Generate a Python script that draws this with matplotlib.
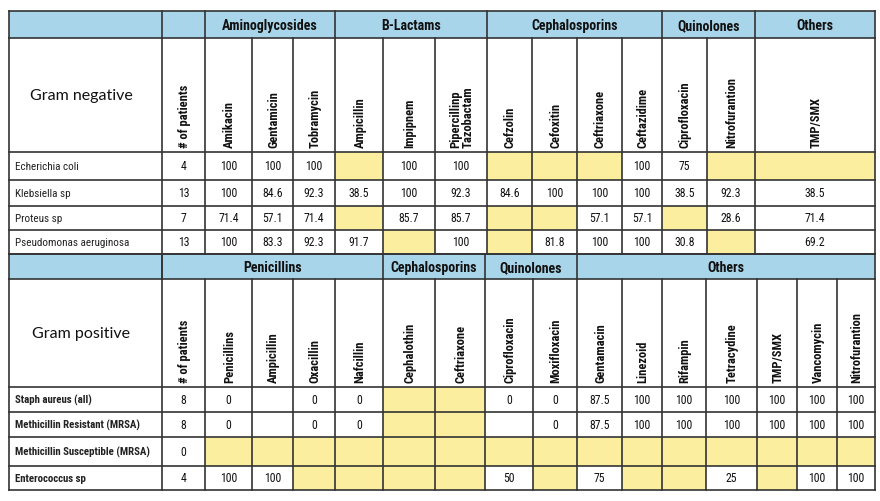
import matplotlib
matplotlib.use("Agg")
import matplotlib.pyplot as plt
from matplotlib.patches import Rectangle

# ---- data ----
top_title = "Gram negative"
top_groups = ["", "Aminoglycosides", "B-Lactams", "Cephalosporins", "Quinolones", "Others"]
top_group_sizes = [1, 3, 3, 4, 2, 1]
top_columns = ["# of patients", "Amikacin", "Gentamicin", "Tobramycin", "Ampicillin", "Impipnem",
               "Pipercillinp\nTazobactam", "Cefzolin", "Cefoxitin", "Ceftriaxone", "Ceftazidime",
               "Ciprofloxacin", "Nitrofurantion", "TMP/SMX"]
top_organisms = ["Echerichia coli", "Klebsiella sp", "Proteus sp", "Pseudomonas aeruginosa"]
# None = not tested (yellow), "" = empty
top_values = [
    ["4", "100", "100", "100", None, "100", "100", None, None, None, "100", "75", None, None],
    ["13", "100", "84.6", "92.3", "38.5", "100", "92.3", "84.6", "100", "100", "100", "38.5", "92.3", "38.5"],
    ["7", "71.4", "57.1", "71.4", None, "85.7", "85.7", None, None, "57.1", "57.1", None, "28.6", "71.4"],
    ["13", "100", "83.3", "92.3", "91.7", None, "100", None, "81.8", "100", "100", "30.8", None, "69.2"],
]

bottom_title = "Gram positive"
bottom_groups = ["", "Penicillins", "Cephalosporins", "Quinolones", "Others"]
bottom_group_sizes = [0, 5, 2, 2, 7]
bottom_columns = ["# of patients", "Penicillins", "Ampicillin", "Oxacillin", "Nafcillin", "Cephalothin",
                  "Ceftriaxone", "Ciprofloxacin", "Moxifloxacin", "Gentamacin", "Linezoid", "Rifampin",
                  "Tetracydine", "TMP/SMX", "Vancomycin", "Nitrofurantion"]
bottom_organisms = ["Staph aureus (all)", "Methicillin Resistant (MRSA)",
                    "Methicillin Susceptible (MRSA)", "Enterococcus sp"]
bottom_values = [
    ["8", "0", "", "0", "0", None, None, "0", "0", "87.5", "100", "100", "100", "100", "100", "100"],
    ["8", "0", "", "0", "0", None, None, "", "0", "87.5", "100", "100", "100", "100", "100", "100"],
    ["0", None, None, None, None, None, None, None, None, None, None, None, None, None, None, None],
    ["4", "100", "100", None, None, None, None, "50", None, "75", None, None, "25", None, "100", "100"],
]

# ---- layout (pixels) ----
top_x = [9, 162, 205, 252, 293, 335, 383, 435, 487, 532, 577, 622, 662, 707, 755, 875]
top_y = [12, 39, 153, 181, 207, 231, 255]
bottom_x = [9, 162, 205, 252, 293, 335, 383, 435, 485, 533, 577, 622, 662, 706, 757, 797, 837, 875]
bottom_y = [255, 280, 388, 413, 438, 467, 491]

BLUE = "#a9d5ea"
YELLOW = "#fcee9f"
LINE = "#333333"
LW = 1.2

narrow = ["Roboto Condensed", "Liberation Sans Narrow", "Lato", "DejaVu Sans"]
regular = ["Lato", "DejaVu Sans"]

fig = plt.figure(figsize=(8.8, 5.02), dpi=100)
ax = fig.add_axes([0, 0, 1, 1])
ax.set_xlim(0, 880)
ax.set_ylim(502, 0)
ax.axis("off")
renderer = fig.canvas.get_renderer()


def fit(texts, width, horizontal=True):
    # shrink a group of texts together until the widest one fits
    while True:
        w = max((t.get_window_extent(renderer).width if horizontal
                 else t.get_window_extent(renderer).height) for t in texts)
        if w <= width or texts[0].get_fontsize() < 5:
            return
        for t in texts:
            t.set_fontsize(t.get_fontsize() - 0.2)


def draw_section(xs, ys, title, groups, sizes, columns, organisms, values, bold_rows, row_w):
    left, right = xs[0], xs[-1]
    ax.add_patch(Rectangle((left, ys[0]), right - left, ys[1] - ys[0], facecolor=BLUE, edgecolor="none"))
    for r, row in enumerate(values):
        for c, v in enumerate(row):
            if v is None:
                ax.add_patch(Rectangle((xs[c + 1], ys[r + 2]), xs[c + 2] - xs[c + 1], ys[r + 3] - ys[r + 2],
                                       facecolor=YELLOW, edgecolor="none"))
    for y in ys:
        ax.plot([left, right], [y, y], color=LINE, lw=LW, solid_capstyle="projecting")
    for x in xs:
        ax.plot([x, x], [ys[1], ys[-1]], color=LINE, lw=LW)
    ax.plot([left, left], [ys[0], ys[1]], color=LINE, lw=LW)
    ax.plot([right, right], [ys[0], ys[1]], color=LINE, lw=LW)

    gtexts = []
    idx = 1
    for g, n in zip(groups, sizes):
        x0, x1 = xs[idx], xs[idx + n]
        ax.plot([x0, x0], [ys[0], ys[1]], color=LINE, lw=LW)
        if g:
            gtexts.append(ax.text((x0 + x1) / 2, (ys[0] + ys[1]) / 2 + 0.5, g, ha="center", va="center",
                                  fontsize=10, fontweight="bold", family=narrow, color="#111111"))
        idx += n
    fit([t for t in gtexts if t.get_text() == "Aminoglycosides"] or gtexts[:1], 107)
    fs = gtexts[0].get_fontsize()
    for t in gtexts:
        t.set_fontsize(fs)

    ax.text((xs[0] + xs[1]) / 2 - 4, (ys[1] + ys[2]) / 2, title, ha="center", va="center",
            fontsize=11.5, family=regular, color="#111111")

    ctexts = []
    for c, name in enumerate(columns):
        cx = (xs[c + 1] + xs[c + 2]) / 2
        ctexts.append(ax.text(cx + 1, ys[2] - 5, name, rotation=90, ha="center", va="bottom",
                              multialignment="left", fontsize=9, fontweight="bold", family=narrow,
                              color="#111111", linespacing=1.0))
    fit(ctexts, 90, horizontal=False)

    ltexts = []
    for r, (org, row) in enumerate(zip(organisms, values)):
        cy = (ys[r + 2] + ys[r + 3]) / 2
        ltexts.append(ax.text(xs[0] + 6, cy, org, ha="left", va="center", fontsize=9,
                              fontweight="bold" if bold_rows else "normal", family=narrow, color="#222222"))
        for c, v in enumerate(row):
            if v:
                ax.text((xs[c + 1] + xs[c + 2]) / 2, cy, v, ha="center", va="center",
                        fontsize=8.5, family=narrow, color="#111111")
    fit(ltexts, row_w)


draw_section(top_x, top_y, top_title, top_groups, top_group_sizes, top_columns,
             top_organisms, top_values, False, 115)
draw_section(bottom_x, bottom_y, bottom_title, bottom_groups, bottom_group_sizes, bottom_columns,
             bottom_organisms, bottom_values, True, 138)

fig.savefig("out.png", dpi=100, facecolor="white")
